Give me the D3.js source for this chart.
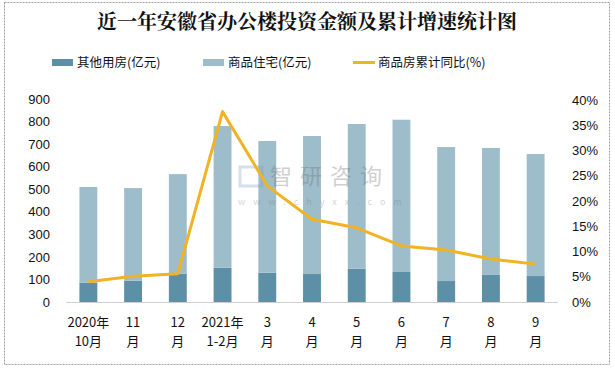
<!DOCTYPE html>
<html><head><meta charset="utf-8">
<script src="https://cdn.jsdelivr.net/npm/d3@7"></script>
<style>body{margin:0;background:#fff;}svg{display:block;font-family:"Noto Sans CJK SC","Noto Sans",sans-serif;}</style>
</head><body><svg id="c" width="615" height="369"></svg>
<script>
const categories = [["2020年","10月"],["11","月"],["12","月"],["2021年","1-2月"],["3","月"],["4","月"],["5","月"],["6","月"],["7","月"],["8","月"],["9","月"]];
const otherValues = [86,94,125,152,130,124,148,133,93,120,115];
const residentialValues = [424,411,442,628,584,612,641,675,594,563,541];
const growthValues = [4.0,5.1,5.6,37.7,23.0,16.4,14.7,11.1,10.3,8.5,7.5];
const leftTicks = [0,100,200,300,400,500,600,700,800,900];
const rightTicks = [0,5,10,15,20,25,30,35,40];
const seriesNames = ["其他用房(亿元)","商品住宅(亿元)","商品房累计同比(%)"];
const colors = ["#5d8fa6","#9ebdca","#f0b323"];

const svg = d3.select("#c");
svg.append("rect").attr("x",4.5).attr("y",2.5).attr("width",605).attr("height",362)
  .attr("fill","#fff").attr("stroke","#a0a0a0").attr("stroke-dasharray","2,1");

svg.append("text").attr("x",307).attr("y",29).attr("text-anchor","middle")
  .attr("font-size",20).attr("font-weight","bold").attr("fill","#111")
  .style("font-family","'Noto Serif CJK SC','Noto Sans CJK SC',serif")
  .text("近一年安徽省办公楼投资金额及累计增速统计图");

const L=66,R=558,T=99,B=302;
const x = d3.scaleBand().domain(d3.range(categories.length)).range([L,R]).paddingInner(0.6).paddingOuter(0.3);
const y = d3.scaleLinear().domain([0,900]).range([B,T]);
const y2 = d3.scaleLinear().domain([0,40]).range([B,T+1]);

const data = categories.map((c,i)=>({i,o:otherValues[i],r:residentialValues[i],g:growthValues[i]}));
const gb = svg.append("g");
gb.selectAll(".o").data(data).join("rect").attr("x",d=>x(d.i)).attr("width",x.bandwidth())
  .attr("y",d=>y(d.o)).attr("height",d=>y(0)-y(d.o)).attr("fill",colors[0]);
gb.selectAll(".r").data(data).join("rect").attr("x",d=>x(d.i)).attr("width",x.bandwidth())
  .attr("y",d=>y(d.o+d.r)).attr("height",d=>y(d.o)-y(d.o+d.r)).attr("fill",colors[1]);

// watermark
const wm = svg.append("g").attr("opacity",0.3);
wm.append("rect").attr("x",240).attr("y",167).attr("width",22).attr("height",19).attr("fill","none").attr("stroke","#7a9bc7").attr("stroke-width",3);
wm.append("text").attr("x",270).attr("y",184).attr("font-size",22).attr("fill","#666").attr("letter-spacing",8).text("智研咨询");
wm.append("text").attr("x",238).attr("y",205).attr("font-size",9).attr("fill","#777").attr("letter-spacing",8).text("www.chyxx.com");

svg.append("line").attr("x1",L).attr("x2",R).attr("y1",B+0.5).attr("y2",B+0.5).attr("stroke","#d0d0d0");

const line = d3.line().x(d=>x(d.i)+x.bandwidth()/2).y(d=>y2(d.g));
svg.append("path").datum(data).attr("d",line).attr("fill","none").attr("stroke",colors[2]).attr("stroke-width",3).attr("stroke-linejoin","round");

const ay = d3.axisLeft(y).tickValues(leftTicks).tickSize(0).tickPadding(0);
const gl = svg.append("g").attr("transform","translate(50,0)").call(ay);
gl.select(".domain").remove();
gl.selectAll("text").attr("font-size",13).attr("fill","#111").style("font-family","'Liberation Sans',Arial,sans-serif");

const ay2 = d3.axisRight(y2).tickValues(rightTicks).tickFormat(d=>d+"%").tickSize(0).tickPadding(0);
const gr = svg.append("g").attr("transform","translate(572,0)").call(ay2);
gr.select(".domain").remove();
gr.selectAll("text").attr("font-size",13).attr("fill","#111").style("font-family","'Liberation Sans',Arial,sans-serif");

const gx = svg.append("g");
categories.forEach((c,i)=>{
  const t = gx.append("text").attr("x",x(i)+x.bandwidth()/2).attr("text-anchor","middle").attr("font-size",13).attr("fill","#111");
  t.append("tspan").attr("x",x(i)+x.bandwidth()/2).attr("y",327).text(c[0]);
  t.append("tspan").attr("x",x(i)+x.bandwidth()/2).attr("y",346).text(c[1]);
});

const lg = svg.append("g").attr("font-size",12.5).attr("fill","#111");
const lx=[52,203,353];
lx.forEach((px,i)=>{
  if(i<2) lg.append("rect").attr("x",px).attr("y",59).attr("width",21).attr("height",7).attr("fill",colors[i]);
  else lg.append("line").attr("x1",px).attr("x2",px+22).attr("y1",62.5).attr("y2",62.5).attr("stroke",colors[i]).attr("stroke-width",3);
  lg.append("text").attr("x",px+25).attr("y",67).text(seriesNames[i]);
});
</script></body></html>
